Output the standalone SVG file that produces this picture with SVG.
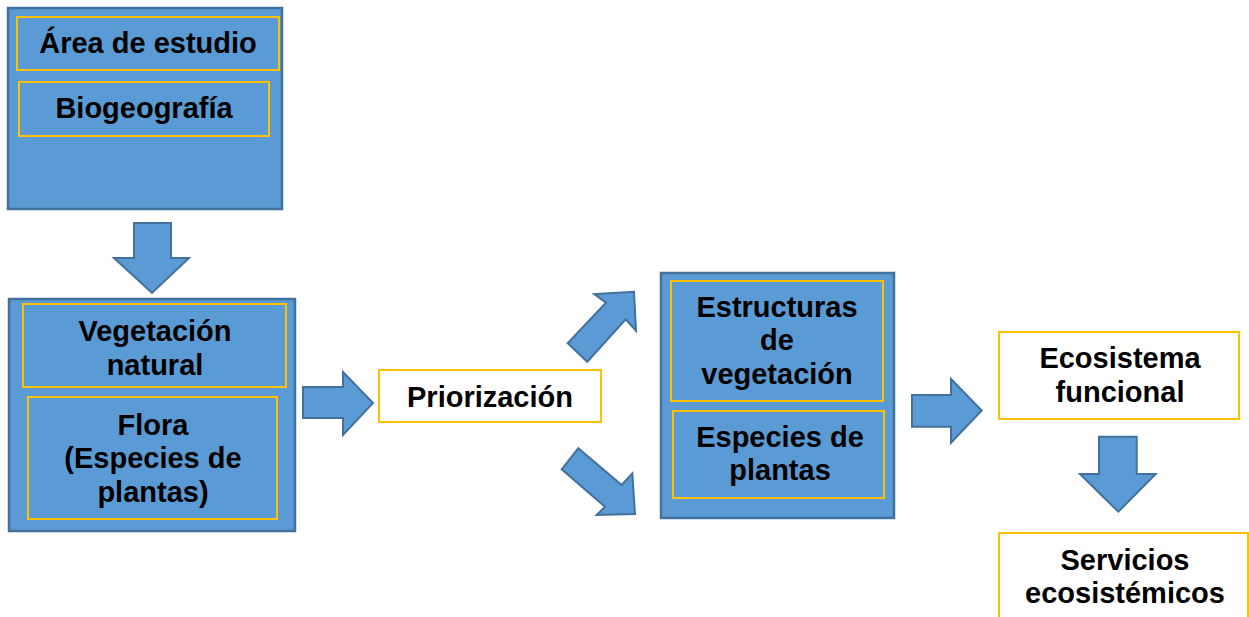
<svg xmlns="http://www.w3.org/2000/svg" width="1249" height="617" viewBox="0 0 1249 617">
<style>
.outer{fill:#5B9BD5;stroke:#41719C;stroke-width:2.5}
.inner{fill:#5B9BD5;stroke:#FFC000;stroke-width:2}
.plain{fill:#FFFFFF;stroke:#FFC000;stroke-width:2}
.arrow{fill:#5B9BD5;stroke:#41719C;stroke-width:2;stroke-linejoin:miter}
text{font-family:"Liberation Sans",Arial,sans-serif;font-weight:bold;font-size:29px;fill:#000000;text-anchor:middle}
</style>
<rect width="1249" height="617" fill="#FFFFFF"/>
<g id="area">
<rect class="outer" x="8" y="8" width="274" height="201"/>
<g id="area-estudio">
<rect class="inner" x="17" y="17" width="262" height="53"/>
<text x="148" y="53">Área de estudio</text>
</g>
<g id="biogeografia">
<rect class="inner" x="19" y="82" width="250" height="54"/>
<text x="144" y="118">Biogeografía</text>
</g>
</g>
<g id="vegetacion-flora">
<rect class="outer" x="9" y="299" width="286" height="232"/>
<g id="vegetacion-natural">
<rect class="inner" x="23" y="304" width="263" height="83"/>
<text x="155" y="341">Vegetación</text>
<text x="155" y="375">natural</text>
</g>
<g id="flora">
<rect class="inner" x="28" y="397" width="249" height="122"/>
<text x="153" y="435">Flora</text>
<text x="153" y="468">(Especies de</text>
<text x="153" y="502">plantas)</text>
</g>
</g>
<g id="priorizacion">
<rect class="plain" x="379" y="370" width="222" height="52"/>
<text x="490" y="407">Priorización</text>
</g>
<g id="estructuras-especies">
<rect class="outer" x="661" y="273" width="233" height="245"/>
<g id="estructuras">
<rect class="inner" x="671" y="281" width="212" height="120"/>
<text x="777" y="317">Estructuras</text>
<text x="777" y="350">de</text>
<text x="777" y="384">vegetación</text>
</g>
<g id="especies">
<rect class="inner" x="673" y="411" width="211" height="87"/>
<text x="780" y="447">Especies de</text>
<text x="780" y="480">plantas</text>
</g>
</g>
<g id="ecosistema">
<rect class="plain" x="999" y="332" width="240" height="87"/>
<text x="1120" y="368">Ecosistema</text>
<text x="1120" y="402">funcional</text>
</g>
<g id="servicios">
<rect class="plain" x="999" y="533" width="249" height="100"/>
<text x="1125" y="570">Servicios</text>
<text x="1125" y="603">ecosistémicos</text>
</g>
<g id="connectors">
<polygon class="arrow" points="134,223 171,223 171,258 189,258 152,293 114,258 134,258"/>
<polygon class="arrow" points="303,387 343,387 343,372 373,403 343,435 343,418 303,418"/>
<polygon class="arrow" points="567.7,343.3 606,302.7 594.3,294 634,291.7 636,330.7 625.7,319.3 587.3,361.7"/>
<polygon class="arrow" points="578.3,448.3 621.7,485 632.3,473.3 635,514 596.7,515 605,506.7 561.7,469.3"/>
<polygon class="arrow" points="912,395 951,395 951,379 981.7,410.5 951,442.7 951,426.7 912,426.7"/>
<polygon class="arrow" points="1099,436.7 1136.7,436.7 1136.7,474 1155.7,474 1118.3,511.7 1080,474 1099,474"/>
</g>
</svg>
